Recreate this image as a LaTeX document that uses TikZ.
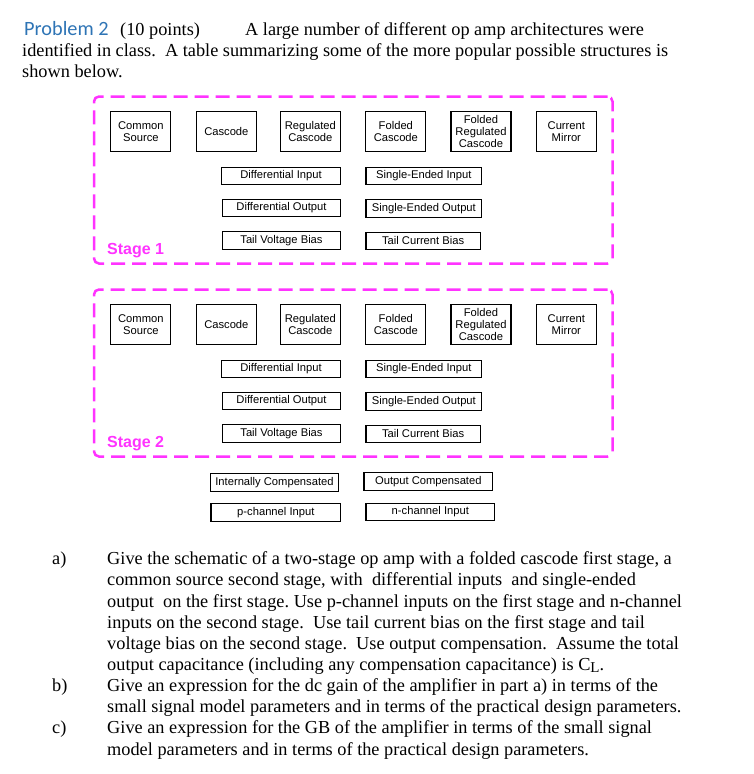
\documentclass[tikz,border=0pt]{standalone}
\usepackage{fontspec}
\setmainfont{Liberation Serif}
\newfontfamily\arialf{Liberation Sans}
\newfontfamily\calibrif{Carlito}
\definecolor{magentax}{RGB}{255,51,255}
\definecolor{headblue}{RGB}{46,116,181}
\frenchspacing
\tikzset{
  sbox/.style={draw, line width=1.1pt, inner sep=0pt, minimum width=60pt, minimum height=40pt, align=center, font=\arialf\fontsize{11.2}{12.2}\selectfont},
  wbox/.style={draw, line width=1.1pt, inner sep=0pt, minimum height=17.5pt, font=\arialf\fontsize{11.2}{12.2}\selectfont},
  body/.style={anchor=base west, inner sep=0pt, font=\fontsize{18.3}{21}\selectfont},
  stagelbl/.style={anchor=base west, inner sep=0pt, text=magentax, font=\arialf\bfseries\fontsize{16}{16}\selectfont},
  stagebox/.style={draw=magentax, line width=2.5pt, dash pattern=on 14pt off 7pt, rounded corners=5pt, inner sep=0pt, minimum width=518.5pt, minimum height=167pt}
}
\begin{document}
\begin{tikzpicture}[x=1pt,y=-1pt]
\useasboundingbox (0,0) rectangle (753,774);
% header
\node[body, anchor=base west, text=headblue, font=\calibrif\fontsize{20.3}{20}\selectfont] (prob) at (24,35) {Problem 2};
\node[body] (pts) at (120,35) {(10 points)};
\node[body] (h1) at (245,35) {A large number of different op amp architectures were};
\node[body] (h2) at (22,56.5) {identified in class.\ \ A table summarizing some of the more popular possible structures is};
\node[body] (h3) at (22,77) {shown below.};
% stages
\foreach \s/\o in {1/0,2/193}{
  \node[stagebox] (st\s) at (353.25,{180+\o}) {};
  \node[sbox] (cs\s)  at (140.85,{131.7+\o}) {Common\\Source};
  \node[sbox] (cc\s)  at (226.35,{131.8+\o}) {Cascode};
  \node[sbox] (rc\s)  at (310.35,{131.7+\o}) {Regulated\\Cascode};
  \node[sbox] (fc\s)  at (395.85,{131.7+\o}) {Folded\\Cascode};
  \node[sbox] (frc\s) at (481.0,{131.7+\o}) {Folded\\Regulated\\Cascode};
  \node[sbox] (cm\s)  at (566.35,{131.7+\o}) {Current\\Mirror};
  \node[wbox, minimum width=119.5pt] (di\s)  at (281.0,{175.8+\o}) {Differential Input};
  \node[wbox, minimum width=115.7pt] (sei\s) at (423.85,{175.8+\o}) {Single-Ended Input};
  \node[wbox, minimum width=118.4pt] (do\s)  at (281.5,{208+\o}) {Differential Output};
  \node[wbox, minimum width=115.7pt] (seo\s) at (423.85,{208.5+\o}) {Single-Ended Output};
  \node[wbox, minimum width=118.4pt] (tvb\s) at (281.5,{240.3+\o}) {Tail Voltage Bias};
  \node[wbox, minimum width=114.3pt] (tcb\s) at (423.15,{240.8+\o}) {Tail Current Bias};
  \node[stagelbl] (lbl\s) at (107,{254+\o}) {Stage \s};
}
% bottom boxes
\node[wbox, minimum width=128.4pt, minimum height=18pt] (ic) at (274.5,482.3) {Internally Compensated};
\node[wbox, minimum width=128.7pt, minimum height=18pt] (oc) at (428.35,481.7) {Output Compensated};
\node[wbox, minimum width=129.7pt, minimum height=18pt] (pch) at (275.85,512.3) {p-channel Input};
\node[wbox, minimum width=128.7pt, minimum height=17.4pt] (nch) at (430.35,512) {n-channel Input};
% questions
\node[body] (qa) at (52,564.7) {a)};
\node[body] (qb) at (52,691.6) {b)};
\node[body] (qc) at (52,733.9) {c)};
\node[body] (l1) at (107,564.7) {Give the schematic of a two-stage op amp with a folded cascode first stage, a};
\node[body] (l2) at (107,585.9) {common source second stage, with\ \ differential inputs\ \ and single-ended};
\node[body] (l3) at (107,607.0) {output\ \ on the first stage. Use p-channel inputs on the first stage and n-channel};
\node[body] (l4) at (107,628.2) {inputs on the second stage.\ \ Use tail current bias on the first stage and tail};
\node[body] (l5) at (107,649.3) {voltage bias on the second stage.\ \ Use output compensation.\ \ Assume the total};
\node[body] (l6) at (107,670.5) {output capacitance (including any compensation capacitance) is C\raisebox{-0.12em}{\fontsize{15}{15}\selectfont L}.};
\node[body] (l7) at (107,691.6) {Give an expression for the dc gain of the amplifier in part a) in terms of the};
\node[body] (l8) at (107,712.8) {small signal model parameters and in terms of the practical design parameters.};
\node[body] (l9) at (107,733.9) {Give an expression for the GB of the amplifier in terms of the small signal};
\node[body] (l10) at (107,755.1) {model parameters and in terms of the practical design parameters.};
\end{tikzpicture}
\end{document}
